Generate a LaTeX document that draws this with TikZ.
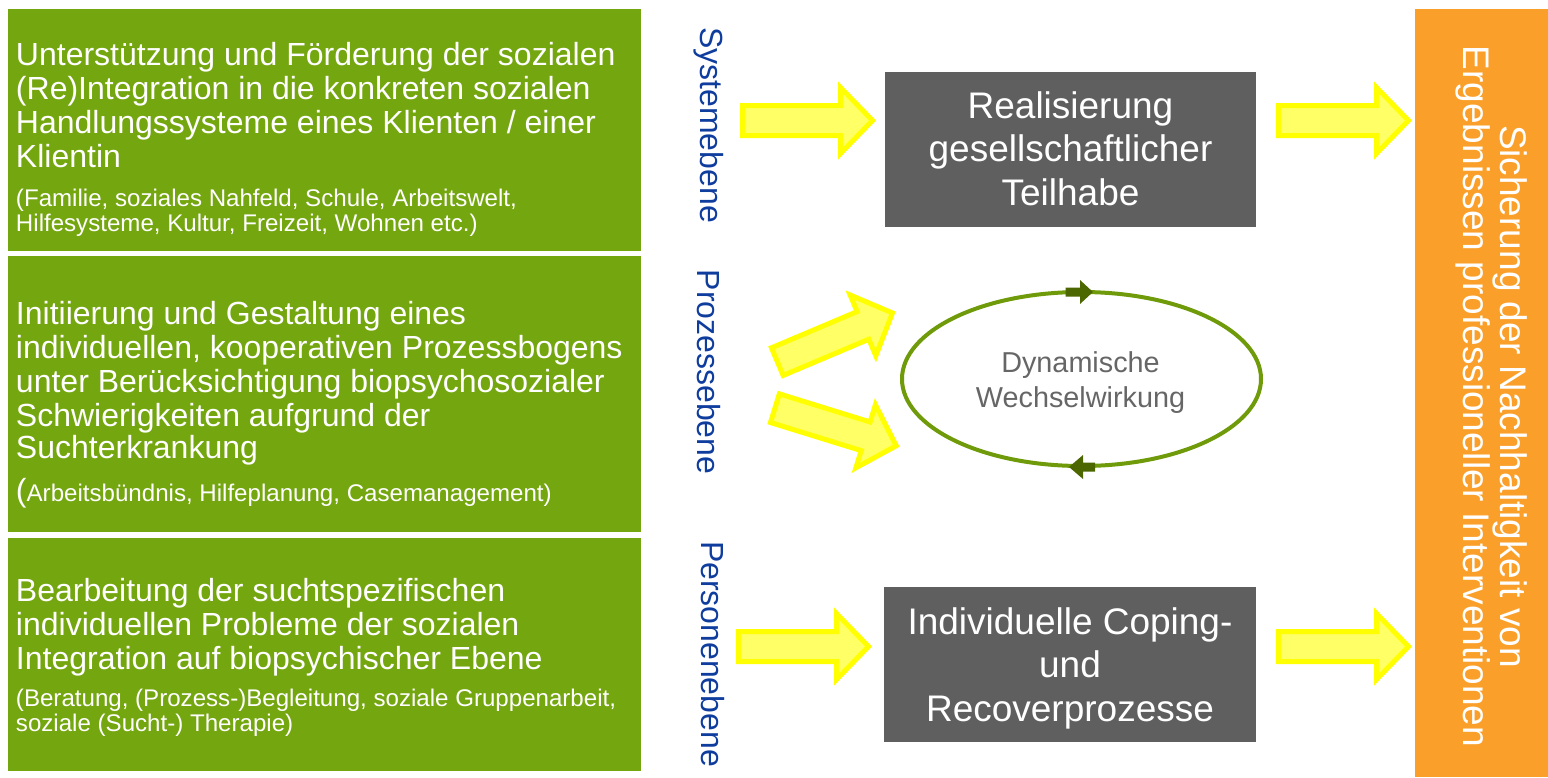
\documentclass[tikz,border=0pt]{standalone}
\usepackage{fontspec}
\setmainfont{Liberation Sans}
\usetikzlibrary{shapes.geometric}
\definecolor{boxgreen}{HTML}{74A60F}
\definecolor{boxgray}{HTML}{5F5F5F}
\definecolor{boxorange}{HTML}{FAA02A}
\definecolor{lvlblue}{HTML}{0F3D9E}
\definecolor{ellgreen}{HTML}{6F9A09}
\definecolor{darkgreen}{HTML}{4C6600}
\definecolor{yline}{HTML}{FFFF00}
\definecolor{yfill}{HTML}{FFFF66}
\definecolor{dyntext}{HTML}{666666}
\tikzset{
  gbox/.style={fill=boxgreen, anchor=north west},
  graybox/.style={fill=boxgray, anchor=north west},
  bigtxt/.style={font=\fontsize{32}{34}\selectfont, text=white, anchor=base west},
  smalltxt/.style={font=\fontsize{24.1}{25}\selectfont, text=white, anchor=base west},
  graytxt/.style={font=\fontsize{37}{44}\selectfont, text=white, anchor=base},
  orangetxt/.style={font=\fontsize{37}{44}\selectfont, text=white, anchor=base, rotate=-90},
  lvltxt/.style={font=\fontsize{32}{34}\selectfont, text=lvlblue, anchor=base, rotate=-90},
  dyntxt/.style={font=\fontsize{28.8}{35}\selectfont, text=dyntext, anchor=base},
  yarr/.style={draw=yline, fill=yfill, line width=5pt, line join=miter},
  pics/yarrow/.style={code={
    \draw[yarr] (0,-15) -- (#1-32,-15) -- (#1-32,-33) -- (#1,0) -- (#1-32,33) -- (#1-32,15) -- (0,15) -- cycle;
  }}
}
\begin{document}
\begin{tikzpicture}[x=1pt,y=-1pt, every node/.style={inner sep=0pt, outer sep=0pt}]
\useasboundingbox (0,0) rectangle (1548,777);

% green boxes
\node[gbox, minimum width=633pt, minimum height=242pt] (g1) at (8,9) {};
\node[gbox, minimum width=633pt, minimum height=276pt] (g2) at (8,256) {};
\node[gbox, minimum width=633pt, minimum height=233pt] (g3) at (8,538) {};

\node[bigtxt] (g1a) at (16,65) {Unterstützung und Förderung der sozialen};
\node[bigtxt] (g1b) at (16,99) {(Re)Integration in die konkreten sozialen};
\node[bigtxt] (g1c) at (16,133) {Handlungssysteme eines Klienten / einer};
\node[bigtxt] (g1d) at (16,167) {Klientin};
\node[smalltxt] (g1e) at (16,206) {(Familie, soziales Nahfeld, Schule, Arbeitswelt,};
\node[smalltxt] (g1f) at (16,231) {Hilfesysteme, Kultur, Freizeit, Wohnen etc.)};

\node[bigtxt] (g2a) at (16,324) {Initiierung und Gestaltung eines};
\node[bigtxt] (g2b) at (16,358) {individuellen, kooperativen Prozessbogens};
\node[bigtxt] (g2c) at (16,392) {unter Berücksichtigung biopsychosozialer};
\node[bigtxt] (g2d) at (16,426) {Schwierigkeiten aufgrund der};
\node[bigtxt] (g2e) at (16,458) {Suchterkrankung};
\node[smalltxt] (g2f) at (16,501) {{\fontsize{32}{34}\selectfont(}Arbeitsbündnis, Hilfeplanung, Casemanagement)};

\node[bigtxt] (g3a) at (16,601) {Bearbeitung der suchtspezifischen};
\node[bigtxt] (g3b) at (16,635) {individuellen Probleme der sozialen};
\node[bigtxt] (g3c) at (16,669) {Integration auf biopsychischer Ebene};
\node[smalltxt] (g3d) at (16,706) {(Beratung, (Prozess-)Begleitung, soziale Gruppenarbeit,};
\node[smalltxt] (g3e) at (16,731) {soziale (Sucht-) Therapie)};

% level labels
\node[lvltxt] (l1) at (700,125) {Systemebene};
\node[lvltxt] (l2) at (697,372) {Prozessebene};
\node[lvltxt] (l3) at (701,654) {Personenebene};

% gray boxes
\node[graybox, minimum width=371pt, minimum height=155pt] (r1) at (885,72) {};
\node[graybox, minimum width=372pt, minimum height=155pt] (r2) at (884,587) {};
\node[graytxt] (r1a) at (1070.5,118) {Realisierung};
\node[graytxt] (r1b) at (1070.5,161.5) {gesellschaftlicher};
\node[graytxt] (r1c) at (1070.5,205) {Teilhabe};
\node[graytxt] (r2a) at (1070,634) {Individuelle Coping-};
\node[graytxt] (r2b) at (1070,677.5) {und};
\node[graytxt] (r2c) at (1070,721) {Recoverprozesse};

% orange box
\node[fill=boxorange, anchor=north west, minimum width=133pt, minimum height=768pt] (o) at (1415,9) {};
\node[orangetxt] (oa) at (1500,396.5) {Sicherung der Nachhaltigkeit von};
\node[orangetxt] (ob) at (1463,396.5) {Ergebnissen professioneller Interventionen};

% ellipse
\node[draw=ellgreen, line width=4pt, ellipse, minimum width=359pt, minimum height=174pt] (dyn) at (1081.5,379) {};
\node[dyntxt] (d1) at (1080.5,372) {Dynamische};
\node[dyntxt] (d2) at (1080.5,407) {Wechselwirkung};
\begin{scope}[shift={(dyn.north)}]
  \fill[darkgreen] (-16,-4.5) -- (-1.5,-4.5) -- (-1.5,-12) -- (11.5,0) -- (-1.5,12) -- (-1.5,4.5) -- (-16,4.5) -- cycle;
\end{scope}
\begin{scope}[shift={(dyn.south)}]
  \fill[darkgreen] (13.5,-3.5) -- (1.5,-3.5) -- (1.5,-11) -- (-12.5,1) -- (1.5,13) -- (1.5,5.5) -- (13.5,5.5) -- cycle;
\end{scope}

% yellow block arrows
\pic at (742.5,120.5) {yarrow=130};
\pic at (1278.5,120.5) {yarrow=130};
\pic at (738.5,646.5) {yarrow=130};
\pic at (1278.5,646.5) {yarrow=130};
\pic[rotate=22.9] at (777.3,361.6) {yarrow=125};
\pic[rotate=-17.2] at (774.9,408.2) {yarrow=127};
\end{tikzpicture}
\end{document}
